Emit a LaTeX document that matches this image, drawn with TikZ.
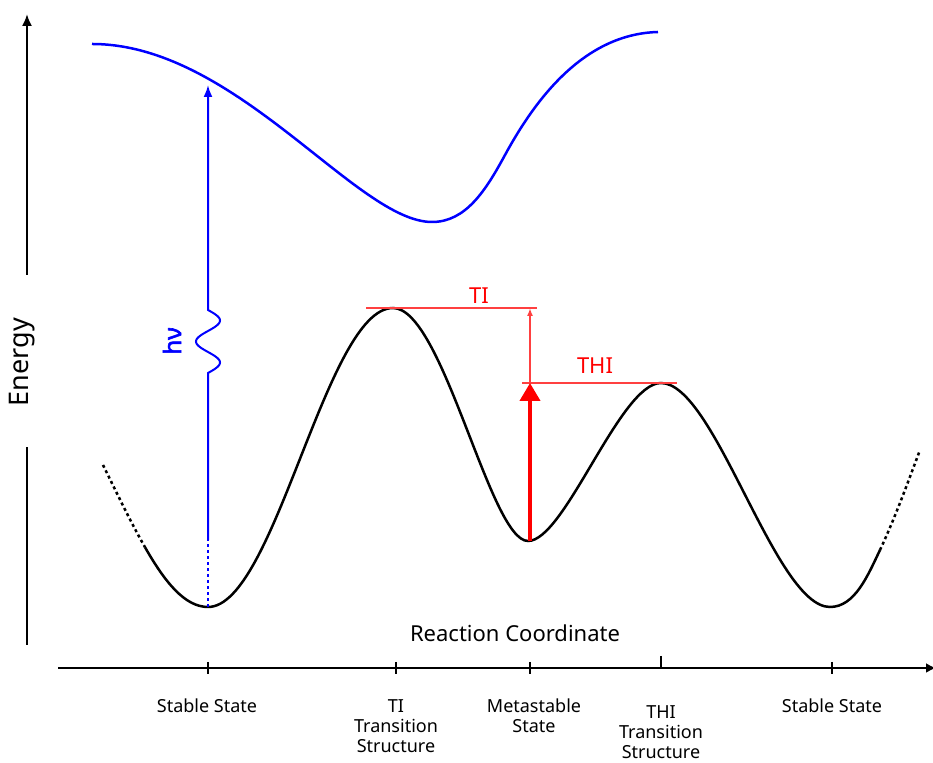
\documentclass[tikz,border=0pt]{standalone}
\usepackage{fontspec}
\setmainfont{Noto Sans}
\newfontfamily\hvfont[FakeBold=2.5]{Noto Sans}
\usepackage{tikz}
\usetikzlibrary{arrows.meta,positioning,calc}

\begin{document}
\begin{tikzpicture}[x=0.5pt,y=-0.5pt,>=Latex,
   pes/.style={line width=1.25pt,black},
   exc/.style={line width=1.25pt,blue},
   photon/.style={line width=1pt,blue},
   axis/.style={line width=1pt,black},
   barrier/.style={line width=0.8pt,red!75},
   dots/.style={dash pattern=on 1.5pt off 1.5pt},
   state/.style={font=\fontsize{9}{10}\selectfont,align=center,inner sep=0pt},
   lbl/.style={font=\fontsize{11}{13}\selectfont,inner sep=0pt}]
 \useasboundingbox (0,0) rectangle (933,763);
 % axes (energy axis broken around its label)
 \coordinate (yb)  at (27,645);
 \coordinate (ym1) at (27,447);
 \coordinate (ym2) at (27,275);
 \coordinate (yt)  at (27,14);
 \coordinate (xl)  at (58,668);
 \coordinate (xr)  at (936,668);
 \node[inner sep=0pt,font=\fontsize{13.5}{16}\selectfont,rotate=90] (energy) at (22,362) {Energy};
 \draw[axis] (yb) -- (ym1);
 \draw[axis,-{Latex[length=6pt,width=5pt]}] (ym2) -- (yt);
 \draw[axis,-{Latex[length=5pt,width=5pt]}] (xl) -- (xr);
 % ticks
 \draw[axis] (208,662) -- ++(0,12);
 \draw[axis] (396,662) -- ++(0,12);
 \draw[axis] (530,662) -- ++(0,12);
 \draw[axis] (661,656) -- ++(0,12);
 \draw[axis] (832,662) -- ++(0,12);
 % state labels
 \node[state] (ss1) at (207,706) {Stable State};
 \node[state] (ts1) at (396,726) {TI\\Transition\\Structure};
 \node[state] (ms)  at (534,716) {Metastable\\State};
 \node[state] (ts2) at (661,732) {THI\\Transition\\Structure};
 \node[state] (ss2) at (832,706) {Stable State};
 \node[lbl] (rc) at (515,633) {Reaction Coordinate};
 % ground state surface
 \coordinate (lend) at (103,465);
 \coordinate (lcut) at (145,547.2);
 \coordinate (gs1)  at (208,607);
 \coordinate (ti)   at (393,308);
 \coordinate (meta) at (528,541);
 \coordinate (thi)  at (661,383);
 \coordinate (gs2)  at (830,607);
 \coordinate (rcut) at (880,550);
 \coordinate (rend) at (920,450);
 \draw[pes,dots] (lend) .. controls (117.8,495) and (131.5,523.7) .. (lcut);
 \draw[pes] (lcut) .. controls (165.3,582.9) and (185.2,607) .. (gs1)
   .. controls (275,607) and (326,308) .. (ti)
   .. controls (443,308) and (490,541) .. (meta)
   .. controls (565,541) and (620,383) .. (thi)
   .. controls (715,383) and (775,607) .. (gs2)
   .. controls (855,607) and (868,575) .. (rcut);
 \draw[pes,dots] (rcut) .. controls (895,518) and (908,482) .. (rend);
 % excited state surface
 \coordinate (es0) at (92,44);
 \coordinate (es1) at (432,222);
 \coordinate (es2) at (505,155);
 \coordinate (es3) at (658,32);
 \draw[exc] (es0) .. controls (236,44) and (357,222) .. (es1)
   .. controls (466,222) and (486,190) .. (es2)
   .. controls (531.4,106.6) and (580,34) .. (es3);
 % photo-excitation
 \coordinate (hvb) at (208,607);
 \coordinate (hv0) at (208,540);
 \coordinate (hv1) at (208,373);
 \coordinate (hvt) at (208,85);
 \draw[photon,dots] (hvb) -- (hv0);
 \draw[photon,-{Latex[length=6pt,width=4.5pt]}] (hv0) -- (hv1)
   -- plot[domain=0:540,samples=61,smooth] ({208+12*sin(\x)},{373-\x/540*63}) -- (hvt);
 \node[inner sep=0pt,text=blue,font=\fontsize{12}{14}\hvfont,rotate=90] (hv) at (172,341) {hν};
 % barriers
 \coordinate (tiL)  at (366,308);
 \coordinate (tiR)  at (537,308);
 \coordinate (thiL) at (522,383);
 \coordinate (thiR) at (677,383);
 \coordinate (b0)   at (530,383);
 \coordinate (b1)   at (530,308);
 \coordinate (mb)   at (530,541);
 \draw[barrier] (tiL) -- (tiR);
 \draw[barrier] (thiL) -- (thiR);
 \draw[barrier,-{Latex[length=4pt,width=3pt]}] (b0) -- (b1);
 \draw[red,line width=2pt,-{Triangle[length=9pt,width=10pt]}] (mb) -- (b0);
 \node[lbl,text=red] (tilbl)  at (479,296) {TI};
 \node[lbl,text=red] (thilbl) at (595,366) {THI};
\end{tikzpicture}
\end{document}
